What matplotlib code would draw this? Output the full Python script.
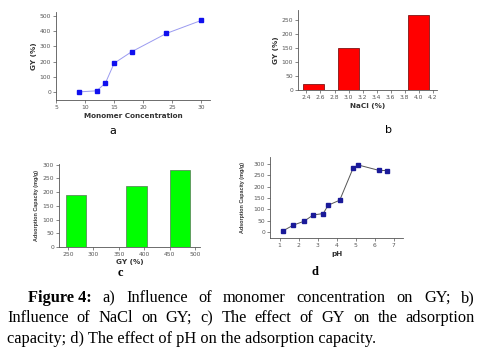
import matplotlib
matplotlib.use('Agg')
import matplotlib.pyplot as plt

# panel a: monomer concentration vs GY
mono_conc = [9, 12, 13.5, 15, 18, 24, 30]
mono_gy = [3, 10, 60, 190, 265, 385, 470]

# panel b: NaCl vs GY
nacl_pct = [2.5, 3.0, 4.0]
nacl_gy = [20, 150, 265]

# panel c: GY vs adsorption capacity
gy_vals = [265, 385, 470]
gy_ads = [190, 222, 280]

# panel d: pH vs adsorption capacity
ph_vals = [1.17, 1.73, 2.29, 2.78, 3.30, 3.56, 4.17, 4.87, 5.13, 6.23, 6.65]
ph_ads = [4, 30, 47, 75, 81, 118, 140, 281, 296, 272, 271]

caption_lines = [
    ["a)", "Influence", "of", "monomer", "concentration", "on", "GY;", "b)"],
    ["Influence", "of", "NaCl", "on", "GY;", "c)", "The", "effect", "of", "GY", "on", "the", "adsorption"],
    ["capacity; d) The effect of pH on the adsorption capacity."],
]

W, H = 487, 356
fig = plt.figure(figsize=(W / 100, H / 100), dpi=100)


def px_axes(left, top, right, bottom):
    return fig.add_axes([left / W, 1 - bottom / H, (right - left) / W, (bottom - top) / H])


def style(ax):
    for s in ['top', 'right']:
        ax.spines[s].set_visible(False)
    for s in ['left', 'bottom']:
        ax.spines[s].set_linewidth(0.6)
        ax.spines[s].set_color('#555555')
    ax.tick_params(direction='out', length=2, width=0.5, labelsize=4.3,
                   colors='#555555', pad=1.5)


lab = dict(fontsize=5.2, fontweight='bold', family='DejaVu Sans', color='#333333')
ads_lab = dict(fontsize=3.9, fontweight='bold', family='Liberation Sans', color='#333333')

# ---- a
ax = px_axes(56, 12, 210, 100)
ax.plot(mono_conc, mono_gy, '-', color='#9a9af0', lw=0.7)
ax.plot(mono_conc, mono_gy, 's', color='#1010ee', ms=3)
ax.set_xlim(5, 31.5)
ax.set_ylim(-50, 525)
ax.set_xticks(range(5, 31, 5))
ax.set_yticks(range(0, 501, 100))
style(ax)
ax.set_xlabel('Monomer Concentration', labelpad=2, **lab)
ax.set_ylabel('GY (%)', labelpad=2, **lab)

# ---- b
ax = px_axes(298, 10, 437, 90)
ax.bar(nacl_pct, nacl_gy, width=0.3, color='#ff0000', edgecolor='#660000', lw=0.5)
ax.set_xlim(2.28, 4.26)
ax.set_ylim(0, 284)
ax.set_xticks([2.4, 2.6, 2.8, 3.0, 3.2, 3.4, 3.6, 3.8, 4.0, 4.2])
ax.set_yticks(range(0, 251, 50))
style(ax)
ax.set_xlabel('NaCl (%)', labelpad=2, **lab)
ax.set_ylabel('GY (%)', labelpad=2, **lab)

# ---- c
ax = px_axes(59, 164, 200, 247)
ax.bar(gy_vals, gy_ads, width=40, color='#00ff00', edgecolor='#557755', lw=0.5)
ax.set_xlim(232, 510)
ax.set_ylim(0, 302)
ax.set_xticks(range(250, 501, 50))
ax.set_yticks(range(0, 301, 50))
style(ax)
ax.set_xlabel('GY (%)', labelpad=1.5, **lab)
ax.set_ylabel('Adsorption Capacity (mg/g)', labelpad=2.5, **ads_lab)

# ---- d
ax = px_axes(270, 157, 403, 238)
ax.plot(ph_vals, ph_ads, '-', color='#555555', lw=0.7)
ax.plot(ph_vals, ph_ads, 's', color='#1a1a99', ms=2.6)
ax.set_xlim(0.5, 7.5)
ax.set_ylim(-27, 331)
ax.set_xticks(range(1, 8))
ax.set_yticks(range(0, 301, 50))
style(ax)
ax.set_xlabel('pH', labelpad=2, **lab)
ax.set_ylabel('Adsorption Capacity (mg/g)', labelpad=6, **ads_lab)

# panel letters
fig.text(113 / W, 1 - 131 / H, 'a', fontsize=8, ha='center', va='center')
fig.text(389 / W, 1 - 130 / H, 'b', fontsize=8, ha='center', va='center')
fig.text(120 / W, 1 - 273 / H, 'c', fontsize=9, ha='center', va='center',
         family='Liberation Serif', fontweight='bold')
fig.text(315 / W, 1 - 272 / H, 'd', fontsize=9, ha='center', va='center',
         family='Liberation Serif', fontweight='bold')

# ---- caption, first two lines justified by hand
cap = dict(fontsize=11.8, family='Liberation Serif', va='baseline')
renderer = fig.canvas.get_renderer()

line_y = [302, 322, 343]
x_right = 475
for i, words in enumerate(caption_lines):
    x0 = 28 if i == 0 else 7
    texts = []
    if i == 0:
        texts.append(fig.text(0, 0, 'Figure 4:', fontweight='bold', **cap))
    for w in words:
        texts.append(fig.text(0, 0, w, **cap))
    widths = [t.get_window_extent(renderer).width for t in texts]
    gap = (x_right - x0 - sum(widths)) / (len(texts) - 1) if len(texts) > 1 else 0
    x = x0
    for t, w in zip(texts, widths):
        t.set_position((x / W, 1 - line_y[i] / H))
        x += w + gap

fig.savefig('out.png', dpi=100)
